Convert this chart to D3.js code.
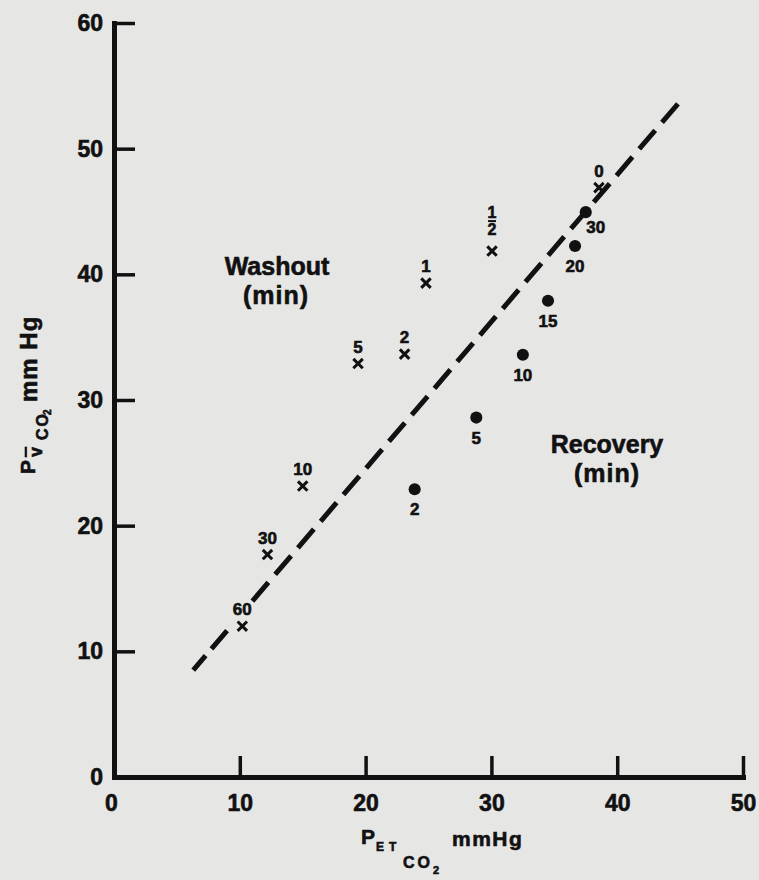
<!DOCTYPE html>
<html>
<head>
<meta charset="utf-8">
<script src="https://cdn.jsdelivr.net/npm/d3@7"></script>
<style>
  html, body { margin: 0; padding: 0; background: #e6e6e5; }
  svg { display: block; }
  text { font-family: "Liberation Sans", Arial, sans-serif; font-weight: bold; fill: #111; stroke: #111; stroke-width: 0.6px; }
</style>
</head>
<body>
<svg id="chart" width="759" height="880"></svg>
<script>
// ---- data ----
const xTicks = [0, 10, 20, 30, 40, 50];
const yTicks = [0, 10, 20, 30, 40, 50, 60];

const washoutLabels = ["60", "30", "10", "5", "2", "1", "1/2", "0"];
const washoutX = [10.2, 12.2, 15.0, 19.4, 23.1, 24.8, 30.05, 38.55];
const washoutY = [12.0, 17.7, 23.15, 32.9, 33.65, 39.3, 41.85, 46.9];

const recoveryLabels = ["2", "5", "10", "15", "20", "30"];
const recoveryX = [23.9, 28.8, 32.5, 34.5, 36.65, 37.5];
const recoveryY = [22.9, 28.6, 33.6, 37.9, 42.25, 44.95];

const fitLineX = [6.3, 45.15];
const fitLineY = [8.5, 53.95];

// ---- layout ----
const ink = "#111";
const svg = d3.select("#chart");
const x = d3.scaleLinear().domain([0, 50]).range([114, 743]);
const y = d3.scaleLinear().domain([0, 60]).range([777, 23]);

// axes
const xAxis = d3.axisBottom(x).tickValues(xTicks).tickSizeInner(-21).tickSizeOuter(0).tickPadding(18).tickFormat(d3.format("d"));
const yAxis = d3.axisLeft(y).tickValues(yTicks).tickSizeInner(-21).tickSizeOuter(0).tickPadding(11).tickFormat(d3.format("d"));

const gx = svg.append("g").attr("transform", `translate(0,${y(0)})`).call(xAxis);
const gy = svg.append("g").attr("transform", `translate(${x(0)},0)`).call(yAxis);
[gx, gy].forEach(g => {
  g.select(".domain").attr("stroke", ink).attr("stroke-width", 5).attr("stroke-linecap", "square");
  g.selectAll(".tick line").attr("stroke", ink).attr("stroke-width", 3.5);
  g.selectAll(".tick text").attr("fill", ink).attr("stroke", ink).attr("stroke-width", 0.8).style("font-size", "23px")
    .style("font-family", '"Liberation Sans", Arial, sans-serif').style("font-weight", "bold");
});
gx.selectAll(".tick text").filter(d => d === 0).attr("dx", -3);

// dashed fit line (hand-drawn style: gap left around the "60" label)
const lineData = fitLineX.map((v, i) => [v, fitLineY[i]]);
const fitPath = svg.append("path")
  .datum(lineData)
  .attr("d", d3.line().x(d => x(d[0])).y(d => y(d[1])))
  .attr("fill", "none").attr("stroke", ink).attr("stroke-width", 5);
const totalLen = fitPath.node().getTotalLength();
const dashes = [19, 9, 24, 39];
let acc = d3.sum(dashes);
while (acc < totalLen + 40) { dashes.push(24.5, 10.5); acc += 35; }
fitPath.attr("stroke-dasharray", dashes.join(","));

// washout points (x markers)
const washout = washoutLabels.map((l, i) => ({ label: l, x: washoutX[i], y: washoutY[i] }));
const xSym = d3.symbol().type(d3.symbolTimes || d3.symbolX).size(60);
const wg = svg.append("g").selectAll("g").data(washout).join("g")
  .attr("transform", d => `translate(${x(d.x)},${y(d.y)})`);
wg.append("path").attr("d", xSym).attr("fill", "none").attr("stroke", ink).attr("stroke-width", 3);
wg.filter(d => d.label !== "1/2").append("text")
  .attr("text-anchor", "middle").attr("y", -11).style("font-size", "17px")
  .text(d => d.label);
const frac = wg.filter(d => d.label === "1/2");
frac.append("text").attr("text-anchor", "middle").attr("y", -33).style("font-size", "16px").text("1");
frac.append("line").attr("x1", -4).attr("x2", 4).attr("y1", -30).attr("y2", -30).attr("stroke", ink).attr("stroke-width", 2);
frac.append("text").attr("text-anchor", "middle").attr("y", -16).style("font-size", "16px").text("2");

// recovery points (dots)
const recovery = recoveryLabels.map((l, i) => ({ label: l, x: recoveryX[i], y: recoveryY[i] }));
const labelNudge = { "30": [10, 21] };
const rg = svg.append("g").selectAll("g").data(recovery).join("g")
  .attr("transform", d => `translate(${x(d.x)},${y(d.y)})`);
rg.append("path").attr("d", d3.symbol().type(d3.symbolCircle).size(115)).attr("fill", ink);
rg.append("text").attr("text-anchor", "middle")
  .attr("x", d => (labelNudge[d.label] || [0, 26])[0])
  .attr("y", d => (labelNudge[d.label] || [0, 26])[1])
  .style("font-size", "17px").text(d => d.label);

// group annotations
svg.append("text").attr("x", 277).attr("y", 275).attr("text-anchor", "middle").style("font-size", "25px").text("Washout");
svg.append("text").attr("x", 276).attr("y", 304).attr("text-anchor", "middle").style("font-size", "25px").style("letter-spacing", "1px").text("(min)");
svg.append("text").attr("x", 607).attr("y", 453).attr("text-anchor", "middle").style("font-size", "25px").text("Recovery");
svg.append("text").attr("x", 607).attr("y", 482).attr("text-anchor", "middle").style("font-size", "25px").style("letter-spacing", "1px").text("(min)");

// x-axis title: P ET CO2 mmHg
const xt = svg.append("g");
xt.append("text").attr("x", 361).attr("y", 844).style("font-size", "21px").text("P");
xt.append("text").attr("x", 376).attr("y", 851).style("font-size", "12px").style("letter-spacing", "5px").text("ET");
xt.append("text").attr("x", 403).attr("y", 868).style("font-size", "16px").style("letter-spacing", "3px").text("CO");
xt.append("text").attr("x", 433).attr("y", 874).style("font-size", "11px").text("2");
xt.append("text").attr("x", 452).attr("y", 846).style("font-size", "21px").style("letter-spacing", "1.5px").text("mmHg");

// y-axis title (rotated): P v̄ CO2 mmHg
const yt = svg.append("text").attr("transform", "translate(35,474) rotate(-90)");
yt.append("tspan").attr("x", 0).attr("y", 0).style("font-size", "21px").text("P");
yt.append("tspan").attr("x", 17).attr("y", 7).style("font-size", "18px").style("text-decoration", "overline").text("v");
yt.append("tspan").attr("x", 34).attr("y", 13).style("font-size", "16px").style("letter-spacing", "2px").text("CO");
yt.append("tspan").attr("x", 59).attr("y", 16).style("font-size", "10px").text("2");
yt.append("tspan").attr("x", 72).attr("y", 2).style("font-size", "24px").style("letter-spacing", "1px").text("mm Hg");
</script>
</body>
</html>
